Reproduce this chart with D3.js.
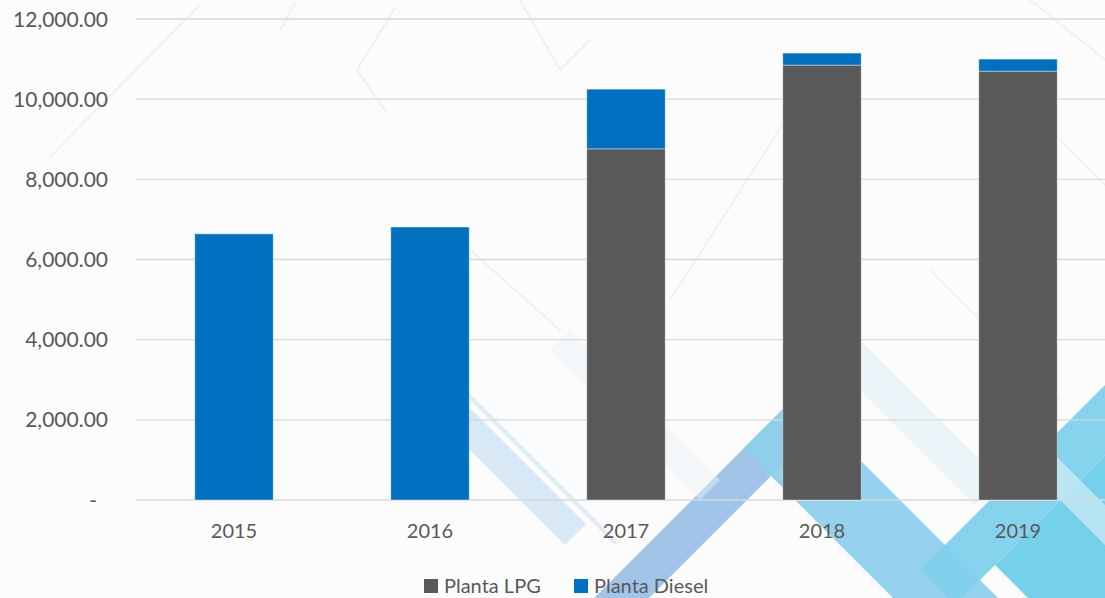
<!DOCTYPE html>
<html>
<head>
<meta charset="utf-8">
<script src="https://cdn.jsdelivr.net/npm/d3@7/dist/d3.min.js"></script>
<style>
  html, body { margin: 0; padding: 0; background: #fcfcfc; }
  svg { display: block; }
  text { font-family: Lato, "Open Sans", "Noto Sans", sans-serif; fill: #595959; }
</style>
</head>
<body>
<svg id="chart" width="1105" height="598"></svg>
<script>
// ---- data ----
const years = ["2015", "2016", "2017", "2018", "2019"];
const plantaLPG = [0, 0, 8760, 10850, 10700];
const plantaDiesel = [6640, 6810, 1490, 300, 300];
const seriesNames = ["Planta LPG", "Planta Diesel"];
const yTicks = [0, 2000, 4000, 6000, 8000, 10000, 12000];

const colors = { "Planta LPG": "#595959", "Planta Diesel": "#0070c0" };

const svg = d3.select("#chart");
const W = 1105, H = 598;

// ---- decorative background (45-degree strips) ----
const deco = svg.append("g").attr("class", "deco");
function stripP(c1, c2, t1, t2) {
  const pt = (c, t) => [(c + t) / 2, (c - t) / 2];
  return [pt(c1, t1), pt(c1, t2), pt(c2, t2), pt(c2, t1)];
}
function stripM(t1, t2, c1, c2) {
  const pt = (c, t) => [(c + t) / 2, (c - t) / 2];
  return [pt(c1, t1), pt(c2, t1), pt(c2, t2), pt(c1, t2)];
}

const shapes = [
  { p: stripM(20, 62, 880, 1110), fill: "#c9e0f1", op: 0.7 },
  { p: stripM(70, 76, 800, 1160), fill: "#d5e7f4", op: 0.7 },
  { p: stripP(1192, 1247, -120, 400), fill: "#97bfe5", op: 0.9 },
  { p: stripM(295, 400, 1192, 1620), fill: "#8fd0ec", op: 0.95 },
  { p: stripP(1490, 1560, 350, 820), fill: "#7fd1ec", op: 0.95 },
  { p: stripP(1560, 1900, 430, 820), fill: "#6ecde9", op: 0.95 },
  { p: stripM(560, 600, 1450, 1900), fill: "#e3f1f9", op: 0.6 },
  { p: stripM(470, 520, 1150, 1480), fill: "#d8ebf6", op: 0.5 },
  { p: stripM(200, 240, 900, 1200), fill: "#eaf2f8", op: 0.45 }
];
deco.selectAll("polygon").data(shapes).join("polygon")
  .attr("points", d => d.p.map(q => q.join(",")).join(" "))
  .attr("fill", d => d.fill).attr("opacity", d => d.op);

const faintLines = [
  [[200, 5], [50, 157]], [[395, 8], [357, 70]], [[357, 70], [387, 113]],
  [[295, 3], [280, 30]], [[520, 0], [560, 70]], [[560, 70], [590, 40]],
  [[790, 113], [670, 300]], [[1000, 80], [1105, 185]], [[930, 270], [1060, 400]],
  [[470, 250], [560, 330]], [[1030, 0], [1105, 60]]
];
deco.selectAll("line").data(faintLines).join("line")
  .attr("x1", d => d[0][0]).attr("y1", d => d[0][1])
  .attr("x2", d => d[1][0]).attr("y2", d => d[1][1])
  .attr("stroke", "#d3e5f2").attr("stroke-width", 1.5).attr("opacity", 0.5);

// ---- scales ----
const plotLeft = 136, step = 196;
const x = d3.scaleBand().domain(years)
  .range([plotLeft, plotLeft + step * years.length])
  .paddingInner(0.6).paddingOuter(0.3);
const y = d3.scaleLinear().domain([0, 12000]).range([500, 19]);

// gridlines
svg.append("g").selectAll("line").data(yTicks).join("line")
  .attr("x1", plotLeft).attr("x2", W)
  .attr("y1", d => y(d)).attr("y2", d => y(d))
  .attr("stroke", "#d9d9d9").attr("stroke-width", 1.3);

// y axis labels
const fmt = d3.format(",.2f");
svg.append("g").selectAll("text").data(yTicks).join("text")
  .attr("x", d => d === 0 ? 97 : 108)
  .attr("y", d => y(d)).attr("dy", "0.36em")
  .attr("text-anchor", "end")
  .style("font-size", "21px")
  .text(d => d === 0 ? "-" : fmt(d));

// ---- stacked bars ----
const rows = years.map((yr, i) => ({ year: yr, "Planta LPG": plantaLPG[i], "Planta Diesel": plantaDiesel[i] }));
const stack = d3.stack().keys(seriesNames)(rows);
svg.append("g").selectAll("g").data(stack).join("g")
  .attr("fill", d => colors[d.key])
  .selectAll("rect").data(d => d.filter(s => s[1] - s[0] > 0)).join("rect")
  .attr("x", d => x(d.data.year))
  .attr("width", x.bandwidth())
  .attr("y", d => y(d[1]))
  .attr("height", d => y(d[0]) - y(d[1]))
  .attr("stroke", "#ffffff").attr("stroke-opacity", 0.5).attr("stroke-width", 0.8);

// x axis labels
svg.append("g").selectAll("text").data(years).join("text")
  .attr("x", d => x(d) + x.bandwidth() / 2)
  .attr("y", 538)
  .attr("text-anchor", "middle")
  .style("font-size", "20px")
  .text(d => d);

// ---- legend ----
const legendX = [424, 574];
const leg = svg.append("g").selectAll("g").data(seriesNames).join("g")
  .attr("transform", (d, i) => `translate(${legendX[i]},579)`);
leg.append("rect").attr("width", 14).attr("height", 14).attr("fill", d => colors[d]);
leg.append("text").attr("x", 20).attr("y", 13.5).style("font-size", "20px").text(d => d);
</script>
</body>
</html>
